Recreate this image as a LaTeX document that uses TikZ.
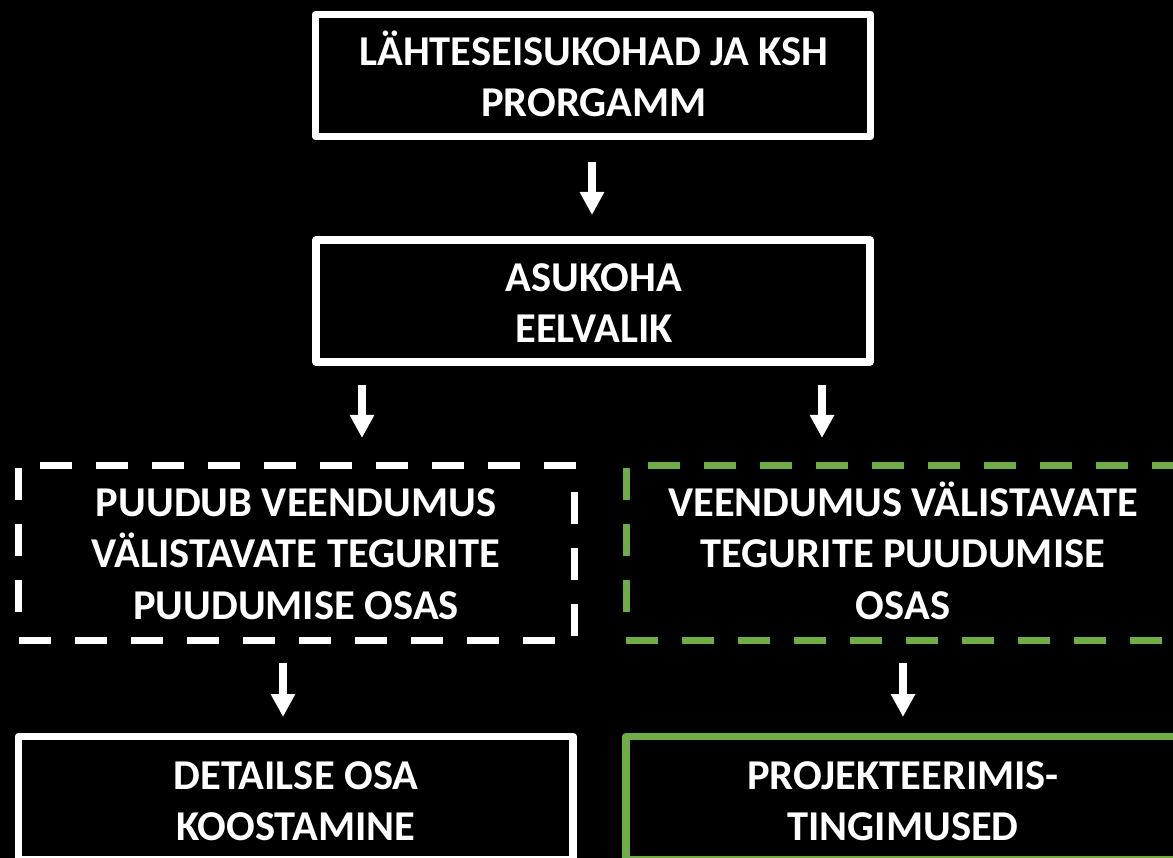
\documentclass[tikz,border=0pt]{standalone}
\usepackage{fontspec}
\setmainfont{Carlito}
\usetikzlibrary{arrows.meta}
\definecolor{grn}{HTML}{70AD47}
\begin{document}
\begin{tikzpicture}[x=1pt,y=-1pt,
  boxtext/.style={font=\bfseries\fontsize{42.5}{51}\selectfont, text=white, align=center, anchor=base, inner sep=0pt},
  dashtext/.style={boxtext, font=\bfseries\fontsize{42.5}{51.5}\selectfont},
  solidbox/.style={draw=white, line width=7.5pt, line join=round, fill=black, inner sep=0pt, outer sep=0pt},
  greenbox/.style={solidbox, draw=grn},
  area/.style={inner sep=0pt, outer sep=0pt},
  dashw/.style={white, line width=7pt, dash pattern=on 32pt off 24pt},
  dashg/.style={dashw, grn},
  arr/.style={white, line width=8pt, -{Triangle[width=23pt,length=23pt]}}]
\fill[black] (0,0) rectangle (1173,858);
\useasboundingbox (0,0) rectangle (1173,858);
\clip (0,0) rectangle (1173,858);

% solid boxes
\node[solidbox, minimum width=555pt, minimum height=122pt] (b1) at (593,75.5) {};
\node[solidbox, minimum width=554pt, minimum height=122pt] (b2) at (593,301) {};
\node[solidbox, minimum width=554.5pt, minimum height=123pt] (b5) at (295.75,798) {};
\node[greenbox, minimum width=554pt, minimum height=123pt] (b6) at (903,798) {};

% dashed areas
\node[area, minimum width=555.5pt, minimum height=174.5pt] (b3) at (296.25,552.75) {};
\node[area, minimum width=554pt, minimum height=174.5pt] (b4) at (903,552.75) {};
% left dashed (white)
\draw[dashw] (40,465.5) -- (578,465.5);
\draw[dashw] (574,492) -- (574,636);
\draw[dashw] (19,640) -- (555,640);
\draw[dashw] (18.5,468) -- (18.5,612);
% right dashed (green)
\draw[dashg] (648,465.5) -- (1200,465.5);
\draw[dashg] (626,468) -- (626,612);
\draw[dashg] (626,640) -- (1200,640);

% texts (anchor = baseline of the last line)
\node[boxtext] (t1) at (594,117) {LÄHTESEISUKOHAD JA KSH\\PRORGAMM};
\node[boxtext] (t2) at (594,343) {ASUKOHA\\EELVALIK};
\node[dashtext] (t3) at (296,619) {PUUDUB VEENDUMUS\\VÄLISTAVATE TEGURITE\\PUUDUMISE OSAS};
\node[dashtext] (t4) at (903,619) {VEENDUMUS VÄLISTAVATE\\TEGURITE PUUDUMISE\\OSAS};
\node[boxtext] (t5) at (296,840) {DETAILSE OSA\\KOOSTAMINE};
\node[boxtext] (t6) at (903,840) {PROJEKTEERIMIS-\\TINGIMUSED};

% arrows
\coordinate (a1s) at (592,162); \coordinate (a1e) at (592,215);
\coordinate (a2s) at (362,385); \coordinate (a2e) at (362,438);
\coordinate (a3s) at (822,385); \coordinate (a3e) at (822,438);
\coordinate (a4s) at (283,663); \coordinate (a4e) at (283,717);
\coordinate (a5s) at (903,663); \coordinate (a5e) at (903,717);
\draw[arr] (a1s) -- (a1e);
\draw[arr] (a2s) -- (a2e);
\draw[arr] (a3s) -- (a3e);
\draw[arr] (a4s) -- (a4e);
\draw[arr] (a5s) -- (a5e);
\end{tikzpicture}
\end{document}
